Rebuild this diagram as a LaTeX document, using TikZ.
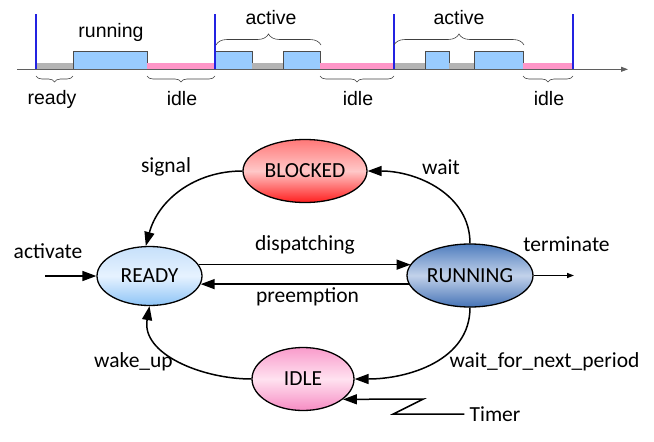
\documentclass[tikz,border=0pt]{standalone}
\usepackage{fontspec}
\setmainfont{Carlito}
\newfontfamily\arialfont{Liberation Sans}
\usepackage{tikz}
\usetikzlibrary{arrows.meta,positioning,shapes.geometric,decorations.pathreplacing}
\definecolor{tlblue}{RGB}{153,204,255}
\definecolor{tlgray}{RGB}{180,180,180}
\definecolor{tlpink}{RGB}{255,150,200}
\definecolor{markblue}{RGB}{35,35,225}
\definecolor{axisgray}{RGB}{95,95,95}
\definecolor{blktop}{RGB}{255,120,120}
\definecolor{blkmid}{RGB}{255,200,200}
\definecolor{blkbot}{RGB}{255,30,30}
\definecolor{rdytop}{RGB}{198,224,250}
\definecolor{rdymid}{RGB}{230,242,255}
\definecolor{rdybot}{RGB}{142,196,246}
\definecolor{runtop}{RGB}{79,125,190}
\definecolor{runmid}{RGB}{194,210,234}
\definecolor{runbot}{RGB}{69,115,182}
\definecolor{idltop}{RGB}{249,155,203}
\definecolor{idlmid}{RGB}{255,226,240}
\definecolor{idlbot}{RGB}{246,140,195}

\begin{document}
\begin{tikzpicture}[x=1pt,y=1pt,>={Triangle[length=14pt,width=10pt]}, every node/.style={font=\fontsize{21.5}{24}\selectfont, inner sep=1pt}]
\tikzstyle{state}=[ellipse, draw=black, line width=1.3pt, inner sep=0pt]
\tikzstyle{edge}=[->, line width=1.5pt]
\tikzstyle{tl}=[font=\arialfont\fontsize{19.5}{22}\selectfont]
\tikzstyle{slot}=[draw=black!70, line width=0.6pt, fill=tlblue]
\tikzstyle{brc}=[decorate, draw=black!75, line width=0.6pt]
\tikzstyle{periodline}=[draw=markblue, line width=1.2pt]
\useasboundingbox (0,0) rectangle (654,-442);
% timeline
\fill[tlgray] (36,-63) rectangle (73,-69);
\draw[slot] (73,-51) rectangle (147,-69);
\fill[tlpink] (147,-63) rectangle (215,-69);
\draw[slot] (215,-51) rectangle (252,-69);
\fill[tlgray] (252,-63) rectangle (283,-69);
\draw[slot] (283,-51) rectangle (320,-69);
\fill[tlpink] (320,-63) rectangle (394,-69);
\fill[tlgray] (394,-63) rectangle (425,-69);
\draw[slot] (425,-51) rectangle (449,-69);
\fill[tlgray] (449,-63) rectangle (474,-69);
\draw[slot] (474,-51) rectangle (523,-69);
\fill[tlpink] (523,-63) rectangle (573,-69);
\draw[axisgray, line width=0.9pt, -{Triangle[length=7pt,width=5pt]}] (17,-69.3) -- (628,-69.3);
\draw[periodline] (36,-14) -- (36,-69);
\draw[periodline] (215,-14) -- (215,-69);
\draw[periodline] (394,-14) -- (394,-69);
\draw[periodline] (573,-14) -- (573,-69);
\draw[brc, decoration={brace, amplitude=6pt}] (73,-76) -- (36,-76);
\draw[brc, decoration={brace, amplitude=6pt}] (215,-76) -- (147,-76);
\draw[brc, decoration={brace, amplitude=6pt}] (394,-76) -- (320,-76);
\draw[brc, decoration={brace, amplitude=6pt}] (573,-76) -- (523,-76);
\draw[brc, decoration={brace, amplitude=11pt}] (216,-45) -- (321,-45);
\draw[brc, decoration={brace, amplitude=11pt}] (394,-45) -- (524,-45);
\node[tl] (lrunning) at (111,-32) {running};
\node[tl] (lactivea) at (271,-18) {active};
\node[tl] (lactiveb) at (459,-18) {active};
\node[tl] (lready) at (52,-99) {ready};
\node[tl] (lidlea) at (182,-99) {idle};
\node[tl] (lidleb) at (358,-99) {idle};
\node[tl] (lidlec) at (549,-99) {idle};
% states
\node[state, minimum width=124pt, minimum height=63pt, top color=blktop, bottom color=blkbot, middle color=blkmid] (blocked) at (305,-171) {BLOCKED};
\node[state, minimum width=105pt, minimum height=59pt, top color=rdytop, bottom color=rdybot, middle color=rdymid] (ready) at (149.5,-276) {READY};
\node[state, minimum width=126pt, minimum height=63pt, top color=runtop, bottom color=runbot, middle color=runmid] (running) at (470,-275.5) {RUNNING};
\node[state, minimum width=102pt, minimum height=63pt, top color=idltop, bottom color=idlbot, middle color=idlmid] (idle) at (303,-379) {IDLE};
\coordinate (actin) at (45,-276);
\coordinate (termout) at (574,-275.5);
\node[inner sep=5pt] (timer) at (495,-414) {Timer};
\draw[edge] (actin) -- (ready.west);
\draw[line width=1.3pt, -{Triangle[length=7pt,width=5pt]}] (running.east) -- (termout);
\draw[edge] (ready.13) -- (ready.13 -| running.169);
\draw[edge] (running.188) -- (running.188 -| ready.351);
\draw[edge] (blocked.west) to[out=180, in=75] (ready.97);
\draw[edge] (running.north) to[out=90, in=0] (blocked.east);
\draw[edge] (running.south) to[out=-90, in=0] (idle.east);
\draw[edge] (idle.west) to[out=180, in=-100] (ready.south);
\draw[edge] (timer.west) -- ++(-71,0) -- ++(30,15) -- (idle.-27);
\node (lsignal) at (166,-167) {signal};
\node (lwait) at (441,-167) {wait};
\node (ldispatch) at (305,-245) {dispatching};
\node (lpreempt) at (307.5,-297) {preemption};
\node (lactivate) at (48,-251) {activate};
\node (lterminate) at (566.5,-244) {terminate};
\node (lwakeup) at (133.5,-362) {wake\_up};
\node (lwaitnext) at (544.5,-362) {wait\_for\_next\_period};
\end{tikzpicture}
\end{document}
